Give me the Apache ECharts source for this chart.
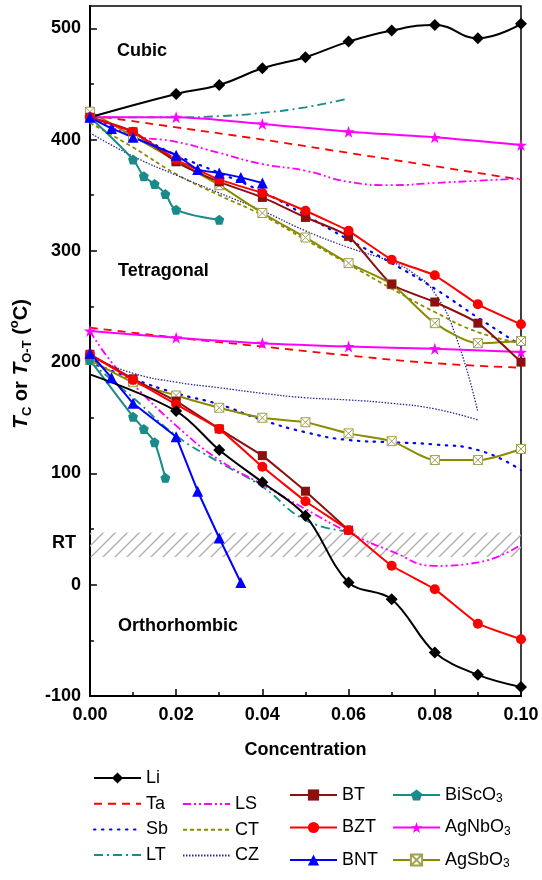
<!DOCTYPE html>
<html>
<head>
<meta charset="utf-8">
<script src="https://cdn.jsdelivr.net/npm/echarts@6/dist/echarts.min.js"></script>
<style>html,body{margin:0;padding:0;background:#fff}#c{width:542px;height:880px}</style>
</head>
<body>
<div id="c"></div>
<script>
// ---- data: [concentration, temperature °C] ----
const liUp = [[0,420],[0.02,441],[0.03,449],[0.04,464],[0.05,474],[0.06,488],[0.07,498],[0.08,503],[0.09,491],[0.10,504]];
const liLow = [[0,189],[0.02,156],[0.03,121],[0.04,92],[0.05,62],[0.06,2],[0.07,-13],[0.08,-61],[0.09,-81],[0.10,-92]];
const taUp = [[0,422],[0.02,411],[0.04,400],[0.06,388],[0.08,376],[0.10,364]];
const taLow = [[0,231],[0.02,222],[0.04,214],[0.06,206],[0.08,199],[0.10,195]];
const sbUp = [[0,420],[0.01,405],[0.02,386],[0.03,370],[0.04,353],[0.05,332],[0.06,310],[0.07,289],[0.08,266],[0.09,240],[0.10,215]];
const sbLow = [[0,200],[0.01,185],[0.02,172],[0.03,162],[0.04,148],[0.05,137],[0.06,130],[0.07,128],[0.08,126],[0.09,121],[0.10,103]];
const ltUp = [[0,420],[0.01,420],[0.02,420],[0.03,421],[0.04,424],[0.05,429],[0.06,437]];
const ltLow = [[0,200],[0.01,168],[0.02,134],[0.03,110],[0.04,88],[0.05,58],[0.06,48]];
const lsUp = [[0,420],[0.01,404],[0.02,398],[0.03,388],[0.04,378],[0.05,372],[0.06,362],[0.07,359],[0.08,361],[0.09,363],[0.10,365]];
const lsLow = [[0,228],[0.005,200],[0.01,180],[0.02,143],[0.03,112],[0.04,90],[0.05,68],[0.06,47],[0.07,30],[0.08,17],[0.09,20],[0.10,36]];
const ctUp = [[0,415],[0.01,393],[0.02,369],[0.03,350],[0.04,332],[0.05,310],[0.06,288],[0.07,266],[0.08,245],[0.09,227],[0.10,217]];
const czUp = [[0,406],[0.01,385],[0.02,368],[0.03,352],[0.04,336],[0.05,318],[0.06,303],[0.07,290],[0.075,280],[0.08,262],[0.085,222],[0.09,155]];
const czLow = [[0,205],[0.01,190],[0.02,182],[0.03,177],[0.04,172],[0.05,168],[0.06,166],[0.07,163],[0.08,158],[0.09,148]];
const btUp = [[0,420],[0.01,407],[0.02,380],[0.03,362],[0.04,348],[0.05,330],[0.06,313],[0.07,270],[0.08,254],[0.09,235],[0.10,200]];
const btLow = [[0,207],[0.01,185],[0.02,165],[0.03,140],[0.04,116],[0.05,84],[0.06,49]];
const bztUp = [[0,420],[0.01,407],[0.02,382],[0.03,364],[0.04,352],[0.05,336],[0.06,318],[0.07,292],[0.08,278],[0.09,252],[0.10,234]];
const bztLow = [[0,207],[0.01,184],[0.02,162],[0.03,140],[0.04,106],[0.05,75],[0.06,49],[0.07,17],[0.08,-4],[0.09,-35],[0.10,-49]];
const bntUp = [[0,420],[0.005,410],[0.01,402],[0.02,386],[0.025,373],[0.03,370],[0.035,366],[0.04,361]];
const bntLow = [[0,208],[0.005,186],[0.01,163],[0.02,133],[0.025,84],[0.03,42],[0.035,2]];
const bscUp = [[0,420],[0.01,382],[0.0125,367],[0.015,360],[0.0175,351],[0.02,337],[0.03,328]];
const bscLow = [[0,202],[0.01,151],[0.0125,140],[0.015,128],[0.0175,96]];
const anUp = [[0,420],[0.02,420],[0.04,414],[0.06,407],[0.08,402],[0.10,395]];
const anLow = [[0,228],[0.02,222],[0.04,217],[0.06,214],[0.08,212],[0.10,209]];
const asUp = [[0,425],[0.01,403],[0.02,381],[0.03,359],[0.04,334],[0.05,312],[0.06,289],[0.07,270],[0.08,235],[0.09,217],[0.10,219]];
const asLow = [[0,202],[0.01,182],[0.02,170],[0.03,159],[0.04,150],[0.05,146],[0.06,136],[0.07,129],[0.08,112],[0.09,112],[0.10,122]];
const rtBand = [25, 47];
const yMajorTicks = [-100, 0, 100, 200, 300, 400, 500];
const yMinorTicks = [-50, 50, 150, 250, 350, 450];

const FONT = '"Liberation Sans", Arial, sans-serif';
const chart = echarts.init(document.getElementById('c'), null, {renderer: 'canvas'});

// hatch pattern
const pc = document.createElement('canvas');
pc.width = 12; pc.height = 12;
const g = pc.getContext('2d');
g.strokeStyle = '#adadad'; g.lineWidth = 1.3;
g.beginPath();
g.moveTo(0, 12); g.lineTo(12, 0);
g.moveTo(-2, 2); g.lineTo(2, -2);
g.moveTo(10, 14); g.lineTo(14, 10);
g.stroke();

const PENT = 'path://M5,0 L10,3.8 L8.1,10 L1.9,10 L0,3.8 Z';
const STAR = 'path://M5,0 L6.2,3.8 L10,3.8 L6.9,6.1 L8.1,10 L5,7.6 L1.9,10 L3.1,6.1 L0,3.8 L3.8,3.8 Z';
const BOXX = 'path://M0,0 L10,0 L10,10 L0,10 Z M0,0 L10,10 M10,0 L0,10';

function line(name, data, color, width, type, extra) {
  return Object.assign({
    name, type: 'line', data, smooth: true, symbol: 'none',
    lineStyle: {color, width, type},
    itemStyle: {color, opacity: 0},
    emphasis: {disabled: true}, animation: false
  }, extra || {});
}
function marked(name, data, color, symbol, size, extra) {
  return Object.assign({
    name, type: 'line', data, smooth: 0.25, symbol, symbolSize: size,
    lineStyle: {color, width: 2},
    itemStyle: {color},
    emphasis: {disabled: true}, animation: false
  }, extra || {});
}
const noFirst = d => d.map((p, i) => i === 0 ? {value: p, symbol: 'none'} : p);

const C = {
  black: '#000000', red: '#ff0000', blue: '#0000ff', teal: '#1a8a8a',
  mag: '#ff00ff', olive: '#8b8b00', navy: '#2a2a9a', brown: '#8b1010'
};
const sbStyle = {color: C.blue, width: 2.2, type: [1.5, 6.5], cap: 'round'};

const series = [
  {
    name: 'RTband', type: 'line', data: [], silent: true,
    markArea: {silent: true, itemStyle: {color: {image: pc, repeat: 'repeat'}},
      data: [[{xAxis: 0, yAxis: rtBand[0]}, {xAxis: 0.1, yAxis: rtBand[1]}]]}
  },
  line('Ta', taUp, C.red, 1.8, [8, 6]),
  line('Ta', taLow, C.red, 1.8, [8, 6]),
  line('Sb', sbUp, C.blue, 2.2, [1.5, 6.5], {lineStyle: sbStyle}),
  line('Sb', sbLow, C.blue, 2.2, [1.5, 6.5], {lineStyle: sbStyle}),
  line('LT', ltUp, C.teal, 1.8, [9, 4, 2, 4]),
  line('LT', ltLow, C.teal, 1.8, [9, 4, 2, 4]),
  line('LS', lsUp, C.mag, 1.8, [8, 3, 2, 3, 2, 3]),
  line('LS', lsLow, C.mag, 1.8, [8, 3, 2, 3, 2, 3]),
  line('CT', ctUp, C.olive, 1.8, [4, 3]),
  line('CZ', czUp, C.navy, 1.3, [1.5, 1.5]),
  line('CZ', czLow, C.navy, 1.3, [1.5, 1.5]),
  marked('AgSbO3', asUp, C.olive, BOXX, 9, {itemStyle: {color: '#ffffff', borderColor: '#a0a050', borderWidth: 1}}),
  marked('AgSbO3', asLow, C.olive, BOXX, 9, {itemStyle: {color: '#ffffff', borderColor: '#a0a050', borderWidth: 1}}),
  marked('AgNbO3', anUp, C.mag, STAR, 12),
  marked('AgNbO3', anLow, C.mag, STAR, 12),
  marked('BiScO3', bscUp, C.teal, PENT, 10, {smooth: 0.4}),
  marked('BiScO3', bscLow, C.teal, PENT, 10, {smooth: 0.2}),
  marked('BT', btUp, C.brown, 'rect', 9, {smooth: 0.2}),
  marked('BT', btLow, C.brown, 'rect', 9, {smooth: 0.1}),
  marked('BZT', bztUp, C.red, 'circle', 10, {smooth: 0.1}),
  marked('BZT', bztLow, C.red, 'circle', 10, {smooth: 0.1}),
  marked('BNT', bntUp, C.blue, 'triangle', 11, {smooth: 0.1}),
  marked('BNT', bntLow, C.blue, 'triangle', 11, {smooth: 0}),
  marked('Li', noFirst(liUp), C.black, 'diamond', 12, {smooth: 0.45}),
  marked('Li', noFirst(liLow), C.black, 'diamond', 12, {smooth: 0.35})
];

const subMap = {BiScO3: '{n|BiScO}{s|3}', AgNbO3: '{n|AgNbO}{s|3}', AgSbO3: '{n|AgSbO}{s|3}'};
const legendText = {
  fontFamily: FONT, fontSize: 18, color: '#000', lineHeight: 20,
  rich: {
    n: {fontFamily: FONT, fontSize: 18, lineHeight: 20, color: '#000'},
    s: {fontFamily: FONT, fontSize: 12, lineHeight: 6, color: '#000', verticalAlign: 'bottom'}
  }
};
function leg(names, left, top, gap) {
  return {
    data: names, left, top, orient: 'vertical', itemGap: gap, padding: 0,
    height: 120, width: 150,
    itemWidth: 47, itemHeight: 14, selectedMode: false,
    textStyle: legendText,
    formatter: n => subMap[n] || n
  };
}

const option = {
  backgroundColor: '#fff',
  animation: false,
  grid: {left: 89, right: 21, top: 6, bottom: 184, show: true, borderColor: '#000', borderWidth: 1.5, containLabel: false},
  xAxis: {
    type: 'value', min: 0, max: 0.1, interval: 0.02,
    axisLine: {onZero: false, lineStyle: {color: '#000', width: 2}},
    axisTick: {inside: true, length: 7, lineStyle: {color: '#000', width: 1.5}},
    minorTick: {show: true, splitNumber: 2, length: 4, lineStyle: {color: '#000', width: 1.5}},
    splitLine: {show: false},
    axisLabel: {formatter: v => v.toFixed(2), fontFamily: FONT, fontSize: 18, fontWeight: 'bold', color: '#000', margin: 10},
    name: 'Concentration', nameLocation: 'middle', nameGap: 45,
    nameTextStyle: {fontFamily: FONT, fontSize: 18, fontWeight: 'bold', color: '#000'}
  },
  yAxis: [{
    type: 'value', min: -100, max: 520, interval: 100,
    axisLine: {onZero: false, lineStyle: {color: '#000', width: 2}},
    axisTick: {inside: true, length: 7, customValues: yMajorTicks, lineStyle: {color: '#000', width: 1.5}},
    splitLine: {show: false},
    axisLabel: {customValues: yMajorTicks, fontFamily: FONT, fontSize: 18, fontWeight: 'bold', color: '#000', margin: 9},
    name: '{i|T}{s|C}{b| or }{i|T}{s|O-T}{b| (}{p|o}{b|C)}', nameLocation: 'middle', nameGap: 44, nameRotate: 90,
    nameTextStyle: {
      fontFamily: FONT, fontSize: 20, fontWeight: 'bold', color: '#000', padding: [0, 26, 0, 0],
      rich: {
        i: {fontFamily: FONT, fontSize: 21, fontWeight: 'bold', fontStyle: 'italic', lineHeight: 26, color: '#000'},
        b: {fontFamily: FONT, fontSize: 20, fontWeight: 'bold', lineHeight: 26, color: '#000'},
        s: {fontFamily: FONT, fontSize: 13, fontWeight: 'bold', lineHeight: 26, verticalAlign: 'bottom', padding: [12, 0, 0, 0], color: '#000'},
        p: {fontFamily: FONT, fontSize: 13, fontWeight: 'bold', lineHeight: 26, verticalAlign: 'top', padding: [0, 0, 10, 0], color: '#000'}
      }
    }
  }, {
    type: 'value', min: -100, max: 520, position: 'left',
    axisLine: {show: false},
    axisTick: {inside: true, length: 4, customValues: yMinorTicks, lineStyle: {color: '#000', width: 1.5}},
    axisLabel: {show: false}, splitLine: {show: false}
  }],
  legend: [
    leg(['Li', 'Ta', 'Sb', 'LT'], 93, 768, 5.7),
    leg(['LS', 'CT', 'CZ'], 182, 794, 5.7),
    leg(['BT', 'BZT', 'BNT'], 289, 785, 12.5),
    leg(['BiScO3', 'AgNbO3', 'AgSbO3'], 392, 785, 12.5)
  ],
  graphic: [
    {type: 'text', left: 117, top: 42, style: {text: 'Cubic', font: 'bold 18px ' + FONT, fill: '#000'}},
    {type: 'text', left: 118, top: 262, style: {text: 'Tetragonal', font: 'bold 18px ' + FONT, fill: '#000'}},
    {type: 'text', left: 118, top: 617, style: {text: 'Orthorhombic', font: 'bold 18px ' + FONT, fill: '#000'}},
    {type: 'text', left: 52, top: 534, style: {text: 'RT', font: 'bold 18px ' + FONT, fill: '#000'}}
  ],
  series
};
chart.setOption(option);
</script>
</body>
</html>
